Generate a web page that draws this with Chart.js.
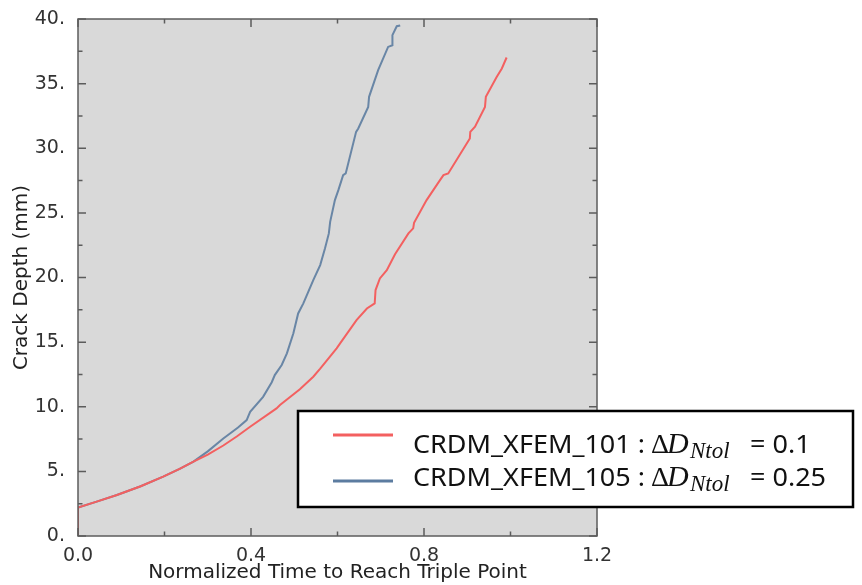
<!DOCTYPE html>
<html>
<head>
<meta charset="utf-8">
<script src="https://cdn.jsdelivr.net/npm/chart.js@4.4.0/dist/chart.umd.min.js"></script>
<style>
  html, body { margin: 0; padding: 0; background: #fff; }
</style>
</head>
<body>
<canvas id="myChart" width="862" height="585"></canvas>
<script>
// series names and the tolerance shown in the legend
var seriesNames = ['CRDM_XFEM_101', 'CRDM_XFEM_105'];
var tolValues = ['0.1', '0.25'];

// CRDM_XFEM_101 (red)
var timeRed = [0, 0, 0.045, 0.09, 0.145, 0.197, 0.235, 0.267, 0.3, 0.336, 0.367, 0.398, 0.459, 0.467, 0.513, 0.544, 0.56,
  0.598, 0.606, 0.644, 0.668, 0.686, 0.688, 0.698, 0.714, 0.733, 0.764, 0.775, 0.777, 0.806, 0.837, 0.845, 0.856,
  0.906, 0.907, 0.918, 0.941, 0.943, 0.968, 0.98, 0.991];
var depthRed = [0, 2.2, 2.68, 3.17, 3.85, 4.59, 5.2, 5.75, 6.3, 7.0, 7.7, 8.45, 9.87, 10.13, 11.35, 12.32, 12.95,
  14.52, 14.9, 16.7, 17.6, 18.0, 19.03, 19.93, 20.57, 21.8, 23.41, 23.8, 24.23, 25.99, 27.53, 27.92, 28.05,
  30.76, 31.27, 31.66, 33.2, 33.98, 35.52, 36.17, 37.02];

// CRDM_XFEM_105 (blue)
var timeBlue = [0, 0, 0.045, 0.09, 0.145, 0.197, 0.235, 0.267, 0.3, 0.336, 0.37, 0.39, 0.398, 0.428, 0.448, 0.455,
  0.471, 0.483, 0.498, 0.509, 0.521, 0.544, 0.56, 0.571, 0.58, 0.583, 0.594, 0.602, 0.613, 0.619, 0.643, 0.648,
  0.671, 0.673, 0.694, 0.717, 0.727, 0.727, 0.737, 0.745];
var depthBlue = [0, 2.2, 2.68, 3.17, 3.85, 4.59, 5.2, 5.75, 6.55, 7.55, 8.4, 8.97, 9.61, 10.77, 11.9, 12.45,
  13.23, 14.13, 15.68, 17.22, 18.0, 19.8, 20.96, 22.25, 23.41, 24.31, 25.99, 26.76, 27.92, 28.05, 31.27, 31.53,
  33.2, 33.98, 36.04, 37.84, 37.97, 38.75, 39.44, 39.5];

var xTicks = [0, 0.4, 0.8, 1.2];
var yTicks = [0, 5, 10, 15, 20, 25, 30, 35, 40];

var redColor = 'rgb(243, 96, 96)';
var blueColor = 'rgb(92, 124, 160)';

function toPoints(xs, ys) {
  var pts = [];
  for (var i = 0; i < xs.length; i++) {
    pts.push({ x: xs[i], y: ys[i] });
  }
  return pts;
}

// gray plot area + white page
var backgroundPlugin = {
  id: 'background',
  beforeDraw: function (chart) {
    var ctx = chart.ctx;
    var a = chart.chartArea;
    ctx.save();
    ctx.fillStyle = '#fff';
    ctx.fillRect(0, 0, chart.width, chart.height);
    ctx.fillStyle = '#d9d9d9';
    ctx.fillRect(a.left, a.top, a.right - a.left, a.bottom - a.top);
    ctx.restore();
  }
};

// box frame with inward ticks on all four sides
var framePlugin = {
  id: 'frame',
  afterDatasetsDraw: function (chart) {
    var ctx = chart.ctx;
    var a = chart.chartArea;
    var xs = chart.scales.x;
    var ys = chart.scales.y;
    var major = 8, minor = 4.5;
    ctx.save();
    ctx.strokeStyle = '#5c5c5c';
    ctx.lineWidth = 1.5;
    ctx.strokeRect(a.left, a.top, a.right - a.left, a.bottom - a.top);
    ctx.beginPath();
    for (var i = 0; i < xTicks.length; i++) {
      var px = xs.getPixelForValue(xTicks[i]);
      ctx.moveTo(px, a.bottom); ctx.lineTo(px, a.bottom - major);
      ctx.moveTo(px, a.top); ctx.lineTo(px, a.top + major);
      if (i < xTicks.length - 1) {
        var pm = xs.getPixelForValue((xTicks[i] + xTicks[i + 1]) / 2);
        ctx.moveTo(pm, a.bottom); ctx.lineTo(pm, a.bottom - minor);
        ctx.moveTo(pm, a.top); ctx.lineTo(pm, a.top + minor);
      }
    }
    for (var j = 0; j < yTicks.length; j++) {
      var py = ys.getPixelForValue(yTicks[j]);
      ctx.moveTo(a.left, py); ctx.lineTo(a.left + major, py);
      ctx.moveTo(a.right, py); ctx.lineTo(a.right - major, py);
      if (j < yTicks.length - 1) {
        var qm = ys.getPixelForValue((yTicks[j] + yTicks[j + 1]) / 2);
        ctx.moveTo(a.left, qm); ctx.lineTo(a.left + minor, qm);
        ctx.moveTo(a.right, qm); ctx.lineTo(a.right - minor, qm);
      }
    }
    ctx.stroke();
    ctx.restore();
  }
};

// boxed legend with the Delta D_Ntol notation
var legendPlugin = {
  id: 'mathLegend',
  afterDraw: function (chart) {
    var ctx = chart.ctx;
    var box = { left: 298, top: 411, right: 853, bottom: 507 };
    var lineY = [435, 481];
    var baseY = [453, 486];
    var colors = [redColor, blueColor];
    ctx.save();
    ctx.fillStyle = '#fff';
    ctx.fillRect(box.left, box.top, box.right - box.left, box.bottom - box.top);
    ctx.strokeStyle = '#000';
    ctx.lineWidth = 2.5;
    ctx.strokeRect(box.left, box.top, box.right - box.left, box.bottom - box.top);

    for (var i = 0; i < seriesNames.length; i++) {
      ctx.strokeStyle = colors[i];
      ctx.lineWidth = 3;
      ctx.beginPath();
      ctx.moveTo(333, lineY[i]);
      ctx.lineTo(393, lineY[i]);
      ctx.stroke();

      ctx.fillStyle = '#111';
      ctx.textBaseline = 'alphabetic';
      ctx.textAlign = 'left';
      ctx.font = '26px "Noto Sans"';
      var prefix = seriesNames[i] + ' :';
      var k = 232 / ctx.measureText(prefix).width;
      ctx.save();
      ctx.translate(413, baseY[i]);
      ctx.scale(k, 1);
      ctx.fillText(prefix, 0, 0);
      ctx.restore();

      ctx.font = '28px "Liberation Serif"';
      ctx.fillText('\u0394', 651, baseY[i]);
      ctx.font = 'italic 30px "Liberation Serif"';
      ctx.fillText('D', 667, baseY[i]);
      ctx.font = 'italic 23px "Liberation Serif"';
      ctx.fillText('Ntol', 690, baseY[i] + 5);

      ctx.font = '26px "Noto Sans"';
      ctx.save();
      ctx.translate(750, baseY[i]);
      ctx.scale(k, 1);
      ctx.fillText('= ' + tolValues[i], 0, 0);
      ctx.restore();
    }
    ctx.restore();
  }
};

const config = {
  type: 'line',
  data: {
    datasets: [{
      label: seriesNames[0],
      data: toPoints(timeRed, depthRed),
      borderColor: redColor,
      borderWidth: 2,
      pointRadius: 0,
      tension: 0,
      fill: false
    }, {
      label: seriesNames[1],
      data: toPoints(timeBlue, depthBlue),
      borderColor: 'rgba(92, 124, 160, 0.9)',
      borderWidth: 2,
      pointRadius: 0,
      tension: 0,
      fill: false
    }]
  },
  options: {
    responsive: false,
    animation: false,
    devicePixelRatio: 1,
    layout: { padding: { left: 0, top: 19, right: 265, bottom: 0 } },
    plugins: {
      legend: { display: false },
      tooltip: { enabled: false }
    },
    scales: {
      x: {
        type: 'linear',
        min: 0,
        max: 1.2,
        afterBuildTicks: function (scale) {
          scale.ticks = xTicks.map(function (v) { return { value: v }; });
        },
        afterFit: function (scale) { scale.height = 49; },
        grid: { display: false },
        border: { display: false },
        ticks: {
          color: '#333',
          padding: 1,
          maxRotation: 0,
          font: { family: 'DejaVu Sans', size: 19 },
          callback: function (v) { return Number(v).toFixed(1); }
        },
        title: {
          display: true,
          text: 'Normalized Time to Reach Triple Point',
          color: '#222',
          font: { family: 'DejaVu Sans', size: 20 },
          padding: { top: 0, bottom: 0 }
        }
      },
      y: {
        min: 0,
        max: 40,
        afterBuildTicks: function (scale) {
          scale.ticks = yTicks.map(function (v) { return { value: v }; });
        },
        afterFit: function (scale) { scale.width = 78; },
        grid: { display: false },
        border: { display: false },
        ticks: {
          color: '#333',
          padding: 5,
          font: { family: 'DejaVu Sans', size: 19 },
          callback: function (v) { return v + '.'; }
        },
        title: {
          display: true,
          text: 'Crack Depth (mm)',
          color: '#222',
          font: { family: 'DejaVu Sans', size: 20 },
          padding: { top: 10, bottom: 0 }
        }
      }
    }
  },
  plugins: [backgroundPlugin, framePlugin, legendPlugin]
};

const myChart = new Chart(document.getElementById('myChart'), config);
</script>
</body>
</html>
